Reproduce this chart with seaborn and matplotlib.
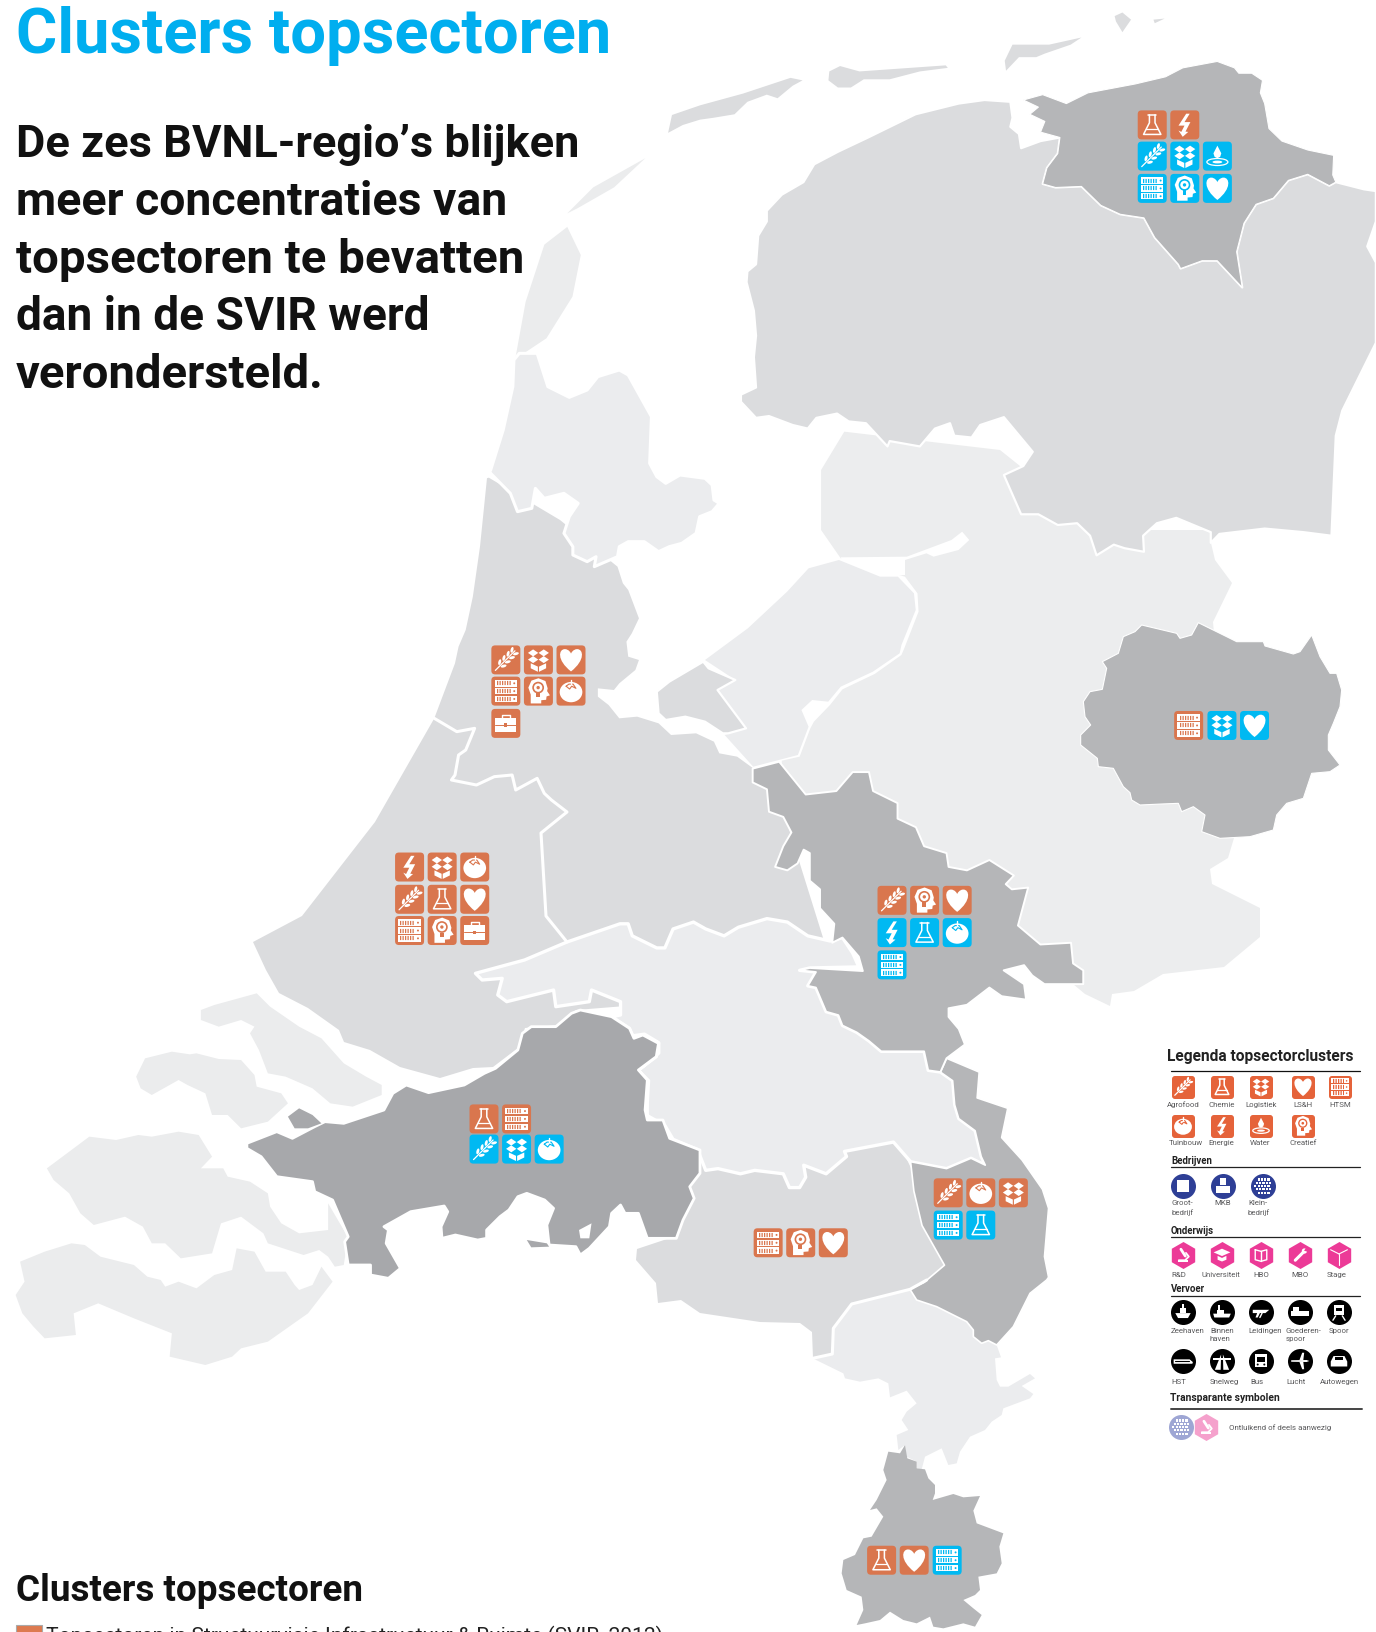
import numpy as np
import pandas as pd
import matplotlib
matplotlib.use('Agg')
import matplotlib.pyplot as plt
import seaborn as sns
from matplotlib.path import Path
from matplotlib.patches import Polygon, Circle, Ellipse, Rectangle, PathPatch

sns.set_theme(style='white')
plt.rcParams['font.family'] = ['Roboto', 'DejaVu Sans']

LIGHT = '#ECEDEE'
MID = '#DBDCDE'
DARK = '#B5B6B8'
DARKEST = '#A7A8AB'
K = 1376 / 1322


# Outlines were traced on crops of the picture, so each list goes through its crop offset and scale
def crop_n(pts):
    return [(700 + x / 2.32, y / 2.8) for x, y in pts]


def crop_sw(pts):
    return [(x / 2.24, 960 + y / 3) for x, y in pts]


def crop_c(pts):
    return [(430 + x / 2.8, 320 + y / 3) for x, y in pts]


def crop_se(pts):
    return [(620 + x / 2.45, 760 + y / 2.9) for x, y in pts]


def crop_tw(pts):
    return [(1070 + x / 3, 610 + y / 3) for x, y in pts]


def crop_li(pts):
    return [(800 + x / 3, 1280 + y / 3) for x, y in pts]


def view(pts):
    return [(x * K, y * K) for x, y in pts]


texel = view([(495,345),(505,290),(523,235),(545,218),(558,245),(550,285),(525,325)])
vlieland = view([(545,205),(570,180),(620,152),(590,180),(555,200)])
terschelling = crop_n([(-65,322),(0,295),(100,262),(210,218),(238,225),(215,240),(180,275),(155,265),(110,285),(80,320),(30,330),(0,335),(-40,350),(-74,372)])
ameland = crop_n([(300,200),(325,185),(370,200),(570,183),(575,190),(510,200),(440,222),(380,222),(350,245),(320,245),(298,225)])
schier = crop_n([(707,170),(725,125),(810,125),(885,105),(860,125),(800,150),(780,160),(740,160),(710,198)])
rottum = crop_n([(962,45),(980,35),(1000,55),(980,90),(965,60)])
rottum2 = crop_n([(1052,55),(1078,52),(1055,65)])
zeeuws_vl = crop_sw([(45,905),(100,875),(160,850),(190,855),(225,890),(300,915),(330,950),(360,960),(370,980),(400,965),(440,985),(480,945),(520,930),(530,865),(570,875),(595,935),(640,935),(660,975),(670,990),(700,975),(720,920),(745,965),(690,1060),(600,1145),(540,1165),(520,1190),(460,1215),(380,1190),(385,1120),(300,1075),(220,1030),(165,1060),(170,1125),(100,1135),(75,1100),(50,1060),(35,1005),(55,965)])
beveland = crop_sw([(105,625),(200,530),(260,540),(310,525),(340,530),(400,515),(445,525),(475,590),(450,625),(500,625),(510,650),(560,665),(600,700),(605,740),(630,790),(670,820),(735,810),(735,730),(770,810),(780,830),(770,915),(750,920),(735,890),(715,870),(680,885),(600,850),(590,820),(540,770),(495,790),(475,880),(405,895),(370,850),(340,850),(320,800),(280,770),(210,795),(180,760),(155,700),(120,660)])
schouwen = crop_sw([(305,350),(325,295),(385,275),(425,283),(440,280),(490,297),(540,300),(570,345),(575,380),(630,400),(645,430),(600,485),(540,505),(510,465),(475,465),(460,400),(420,375),(400,360),(340,405),(315,385)])
goeree = crop_sw([(450,150),(480,135),(575,100),(605,140),(670,200),(720,235),(770,310),(820,350),(855,375),(855,405),(790,440),(740,430),(700,385),(640,350),(600,340),(580,270),(560,220),(570,200),(540,180),(490,200),(450,180)])

noord_oost = crop_n([(135,660),(155,620),(155,590),(190,545),(240,510),(265,460),(320,425),(390,385),(500,320),(600,290),(660,280),(720,285),(725,330),(720,355),(740,375),(745,415),(790,395),(835,385),(830,430),(805,470),(795,515),(825,525),(885,522),(930,575),(975,600),(1030,610),(1055,665),(1110,740),(1115,752),(1165,730),(1200,730),(1258,805),(1245,705),(1262,625),(1290,572),(1330,555),(1365,505),(1410,488),(1460,520),(1475,510),(1540,530),(1568,535),(1568,620),(1548,690),(1568,735),(1568,960),(1490,1150),(1475,1220),(1465,1500),(1400,1490),(1310,1480),(1205,1495),(1185,1520),(1185,1490),(1105,1450),(1060,1465),(1028,1500),(1030,1545),(985,1535),(960,1525),(920,1555),(905,1500),(875,1465),(830,1470),(785,1440),(745,1440),(705,1330),(750,1305),(772,1265),(705,1168),(650,1190),(630,1225),(590,1220),(580,1185),(545,1200),(510,1250),(440,1235),(435,1250),(385,1185),(345,1180),(318,1158),(270,1170),(250,1200),(215,1190),(160,1165),(130,1170),(95,1125),(95,1105),(130,1085),(125,1000),(130,940),(125,870),(108,790),(110,760),(130,740)])
groningen = crop_n([(795,265),(850,290),(900,260),(1010,235),(1080,215),(1120,190),(1200,172),(1240,190),(1250,205),(1280,205),(1305,225),(1300,260),(1310,290),(1320,360),(1350,395),(1410,420),(1470,435),(1468,490),(1475,510),(1460,520),(1410,488),(1365,505),(1330,555),(1290,572),(1262,625),(1245,705),(1258,805),(1200,730),(1165,730),(1115,752),(1110,740),(1055,665),(1030,610),(975,600),(930,575),(885,522),(825,525),(795,515),(805,470),(830,430),(835,385),(790,370),(800,340),(765,320),(785,300),(750,280)])
oost = crop_c([(1095,450),(1160,335)]) + [(1000,450),(1100,530),(1211,530),(1211,543),(1215,560),(1232,583),(1213,622),(1220,700),(1204,832),(1234,838),(1228,858),(1210,869),(1212,884),(1260,908),(1260,937),(1224,967),(1163,974),(1134,991),(1112,994),(1110,1006),(1085,994),(1073,984),(1050,960),(850,900),(790,800),(753,769)] + crop_c([(985,1360),(985,1322),(1035,1310),(1065,1225),(1075,1205),(1120,1155),(1155,1108),(1245,1062),(1320,1005),(1328,985),(1368,875),(1365,820),(1330,770),(1150,715),(1095,630)])
ketelmeer = crop_c([(1150,712),(1160,740),(1265,770),(1330,765),(1330,720),(1390,700),(1410,710),(1480,690),(1510,660),(1490,635),(1460,660),(1335,710)])
kop = crop_c([(160,470),(170,450),(205,330),(232,200),(235,120),(250,100),(300,100),(315,150),(330,200),(390,232),(440,210),(470,170),(530,150),(555,165),(620,290),(615,430),(635,470),(660,490),(700,465),(770,475),(790,495),(795,540),(810,550),(790,575),(755,590),(745,640),(705,670),(670,680),(640,695),(600,665),(555,665),(530,680),(525,710),(460,740),(465,710),(440,725),(400,705),(400,680),(375,640),(390,590),(415,550),(375,520),(320,535),(295,505),(285,565),(245,575),(225,520),(170,460)])
randstad = crop_c([(160,470),(140,680),(120,830),(100,930),(80,980),(70,1030),(12,1195)]) + [(375,822),(302,916),(253,942),(266,970),(279,993),(308,1008),(339,1030),(344,1042),(370,1050),(400,1067),(440,1078),(473,1068),(493,1067),(518,1048),(525,1028),(558,1025),(576,1010),(700,1000),(830,960),(780,800)] + crop_c([(905,1345),(860,1310),(810,1300),(795,1265),(745,1240),(675,1245),(640,1210),(580,1190),(530,1195),(500,1155),(470,1130),(470,1105),(515,1110),(530,1090),(575,1050),(585,1020),(555,1010),(550,965),(565,940),(585,895),(555,810),(540,790),(525,740)]) + [(560,520)]
province_line = crop_c([(12,1195),(75,1235),(125,1225),(100,1290),(80,1305),(70,1365),(60,1380),(130,1395),(180,1370),(230,1365),(240,1410),(300,1375),(320,1420),(340,1440)]) + [(567,812),(541,833),(546,916),(567,942)]
flevoland = crop_c([(770,1020),(890,925),(945,870),(1000,815),(1060,745),(1145,720),(1260,770),(1310,770),(1355,820),(1360,870),(1320,975),(1315,1000),(1240,1055),(1150,1100),(1115,1145),(1070,1140),(1040,1170),(1060,1220),(1030,1305),(905,1340),(825,1245),(885,1225),(805,1110),(855,1080)])
almere = crop_c([(635,1115),(670,1085),(765,1025),(780,1045),(855,1080),(805,1110),(885,1225),(835,1240),(820,1240),(770,1205),(715,1190),(660,1200),(640,1180)])
brainport = [(637,1249),(670,1238),(690,1170),(730,1130),(895,1135),(958,1265),(910,1289),(852,1304),(833,1328),(832,1354),(813,1358),(812,1332),(800,1323),(760,1322),(700,1313),(681,1300),(658,1303),(656,1283),(636,1260)]
rivieren = crop_sw([(1065,40),(1175,0)]) + [(567,942)] + crop_se([(0,475),(20,475),(30,510),(90,545),(110,545),(130,490),(180,470),(210,490),(255,510),(290,485),(360,460),(410,470),(460,510),(515,525),(545,515),(570,560),(585,600),(465,603),(440,610),(480,615),(460,655),(480,660),(505,730),(535,740),(545,770),(580,790),(610,815),(640,845),(745,845),(755,900),(785,905),(815,930),(820,1000),(830,1040),(870,1075),(885,1150),(895,1175),(860,1155),(800,1185),(712,1165),(670,1108),(550,1135),(555,1150),(505,1200),(450,1175),(455,1210),(440,1240),(415,1240),(400,1200),(330,1190),(295,1200),(240,1185),(210,1190),(190,1130),(130,1100),(110,1060),(65,1030),(70,930),(45,900),(95,850),(95,820),(60,795),(30,800),(0,765)]) + crop_sw([(1370,600),(1450,480),(1445,360),(1430,330),(1470,290),(1475,250),(1440,225),(1420,235),(1410,205),(1370,170),(1390,165),(1390,125),(1325,90),(1320,125),(1245,140),(1240,90),(1135,125),(1115,105),(1125,55),(1080,60)])
brabant = crop_sw([(553,550),(620,515),(655,535),(705,500),(728,485),(770,490),(860,450),(880,400),(910,375),(960,398),(1040,375),(1085,340),(1110,325),(1160,270),(1170,220),(1190,200),(1245,200),(1280,160),(1300,150),(1370,170),(1410,205),(1420,235),(1440,225),(1475,250),(1470,290),(1430,330),(1450,360),(1445,450),(1450,480),(1485,480),(1500,535),(1568,570),(1568,640),(1545,680),(1555,715),(1530,780),(1515,835),(1450,835),(1430,760),(1400,760),(1390,735),(1370,760),(1365,800),(1320,865),(1300,885),(1290,860),(1230,855),(1225,795),(1240,745),(1220,720),(1180,700),(1160,710),(1140,750),(1120,770),(1090,810),(1090,835),(1070,840),(1020,825),(990,835),(988,800),(1003,755),(995,738),(920,755),(860,800),(870,810),(865,850),(897,925),(870,955),(830,945),(830,915),(780,915),(772,845),(780,830),(745,720),(705,695),(700,665),(620,650),(585,590),(553,565)])
tholen = crop_sw([(645,470),(670,445),(700,465),(720,490),(690,505),(660,505)])
brabant_gap = crop_sw([(1297,810),(1325,790),(1320,835),(1300,835)])
brabant_bit = crop_sw([(1180,840),(1225,850),(1230,860),(1190,862)])
venlo = crop_se([(785,905),(800,865),(880,905),(875,980),(950,1010),(935,1095),(985,1160),(1035,1245),(1050,1300),(1040,1440),(1050,1500)]) + crop_li([(740,0),(690,40),(640,140),(590,195),(565,182),(545,190),(520,170),(520,150),(500,125),(410,80),(350,60),(330,28)]) + crop_se([(745,1515),(795,1465),(740,1350),(720,1250),(712,1165),(800,1185),(860,1155),(895,1175),(885,1150),(870,1075),(830,1040),(820,1000),(815,930)])
gelderland = crop_se([(325,25),(390,5),(455,100),(530,90),(570,35),(610,35),(620,90),(680,125),(680,170),(725,195),(745,250),(800,270),(805,310),(850,320),(905,290),(965,335),(945,360),(960,375),(1000,370),(975,480),(1030,535),(1105,530),(1110,590),(1135,610),(1135,650),(1040,650),(1010,625),(990,595),(940,610),(990,650),(995,695),(935,685),(905,660),(850,710),(805,720),(805,745),(830,780),(845,825),(800,865),(785,905),(755,900),(745,845),(640,845),(610,815),(580,790),(545,770),(535,740),(505,730),(480,660),(460,655),(480,615),(440,610),(465,603),(595,612),(585,570),(545,515),(520,530),(525,475),(490,430),(490,375),(465,350),(465,270),(450,260),(435,300),(410,320),(380,310),(400,250),(420,210),(400,165),(365,150),(360,85),(325,65)])
twente = crop_tw([(215,45),(320,70),(330,85),(365,75),(385,38),(470,80),(500,95),(580,95),(585,108),(670,132),(690,125),(725,75),(750,140),(780,190),(800,190),(815,240),(810,290),(790,340),(775,375),(775,420),(810,465),(780,485),(725,490),(700,565),(650,580),(620,615),(610,660),(540,680),(450,685),(395,665),(405,615),(370,590),(335,605),(325,580),(275,582),(210,585),(185,570),(180,548),(160,530),(130,475),(85,470),(82,445),(32,405),(32,375),(62,345),(45,320),(40,275),(60,245),(97,238),(110,175),(97,155),(145,130),(160,80),(195,65)])
midden_limburg = crop_li([(38,235),(97,222),(100,145),(155,72),(330,28),(350,60),(410,80),(500,125),(520,150),(520,170),(545,190),(565,182),(590,195),(603,232),(585,235),(590,300),(600,320),(625,320),(690,282),(705,295),(665,318),(700,342),(690,355),(610,385),(605,405),(575,425),(555,450),(510,470),(480,515),(470,550),(445,555),(425,505),(375,530),(365,568),(350,565),(350,545),(320,530),(315,495),(295,510),(290,465),(325,450),(305,420),(320,395),(350,370),(320,332),(270,352),(265,310),(235,295),(180,305),(135,295),(130,280)])
maastricht = crop_li([(265,515),(300,520),(315,495),(322,535),(350,545),(350,565),(375,568),(385,595),(405,615),(405,640),(398,660),(460,642),(490,652),(540,648),(520,692),(530,730),(570,745),(610,760),(598,800),(605,850),(590,880),(535,890),(540,930),(525,945),(490,960),(520,985),(545,1005),(525,1040),(490,1030),(430,1045),(400,1040),(390,1010),(350,1030),(310,1020),(270,995),(240,1020),(195,1030),(170,1035),(190,990),(185,950),(140,930),(125,880),(130,840),(165,825),(190,775),(215,770),(250,710),(230,685),(210,690),(230,660),(260,600),(250,570)])

# Icon clusters: each row starts at (x, y), status 'k' = in SVIR, 'b' = extra
clusters = [
    (486, 634, 'k', ['agro', 'log', 'hart']),
    (486, 664, 'k', ['htsm', 'crea', 'tuin']),
    (486, 695, 'k', ['bag']),
    (393.5, 833, 'k', ['ener', 'log', 'tuin']),
    (393.5, 864, 'k', ['agro', 'chem', 'hart']),
    (393.5, 894, 'k', ['htsm', 'crea', 'bag']),
    (1107, 120, 'k', ['chem', 'ener']),
    (1107, 150, 'b', ['agro', 'log', 'wate']),
    (1107, 181, 'b', ['htsm', 'crea', 'hart']),
    (1142, 697, 'k', ['htsm']),
    (1174, 697, 'b', ['log', 'hart']),
    (857, 865, 'k', ['agro', 'crea', 'hart']),
    (857, 896, 'b', ['ener', 'chem', 'tuin']),
    (857, 927, 'b', ['htsm']),
    (465, 1075, 'k', ['chem', 'htsm']),
    (465, 1104, 'b', ['agro', 'log', 'tuin']),
    (738, 1194, 'k', ['htsm', 'crea', 'hart']),
    (911, 1146, 'k', ['agro', 'tuin', 'log']),
    (911, 1177, 'b', ['htsm', 'chem']),
    (847, 1499, 'k', ['chem', 'hart']),
    (910, 1499, 'b', ['htsm']),
]

heading_lines = ['De zes BVNL-regio’s blijken', 'meer concentraties van', 'topsectoren te bevatten', 'dan in de SVIR werd', 'verondersteld.']
heading_sizes = [32.5, 33.4, 34.1, 33.1, 34]

# Legend content
sector_row1 = [('agro', 'Agrofood', 1183), ('chem', 'Chemie', 1222), ('log', 'Logistiek', 1261), ('hart', 'LS&H', 1303), ('htsm', 'HTSM', 1340)]
sector_row2 = [('tuin', 'Tuinbouw', 1186), ('ener', 'Energie', 1221), ('wate', 'Water', 1260), ('crea', 'Creatief', 1303)]
onderwijs = [('rd', 'R&D', 1179), ('uni', 'Universiteit', 1221), ('hbo', 'HBO', 1261), ('mbo', 'MBO', 1300), ('stage', 'Stage', 1337)]
vervoer1 = [('Zeehaven', 1183), ('Binnen\nhaven', 1222), ('Leidingen', 1261), ('Goederen-\nspoor', 1300), ('Spoor', 1339)]
vervoer2 = [('HST', 1183), ('Snelweg', 1222), ('Bus', 1261), ('Lucht', 1300), ('Autowegen', 1339)]

ORANGE = '#D9764E'
BLUE = '#00B9F2'
LEG_OR = '#E5633A'
NAVY = '#2E3F96'
PINK = '#EC3A97'

fig = plt.figure(figsize=(13.76, 16.32), dpi=100)
ax = fig.add_axes([0, 0, 1, 1])
ax.set_xlim(0, 1376)
ax.set_ylim(1632, 0)
ax.axis('off')


def region(pts, color, lw=1.8):
    ax.add_patch(Polygon(np.array(pts), closed=True, fc=color, ec='white', lw=lw, zorder=1, joinstyle='round'))


for p in [texel, vlieland, zeeuws_vl, beveland, schouwen, goeree]:
    region(p, '#EBECED', lw=0)
for p in [terschelling, ameland, schier, rottum, rottum2]:
    region(p, MID, lw=0)
region(oost, LIGHT, lw=0)
region(ketelmeer, 'white', lw=0)
for p, c, w in [(noord_oost, MID, 1.6), (groningen, DARK, .8), (randstad, MID, 0), (kop, '#EBECEE', 2.2), (flevoland, '#EBECEE', 0),
                (almere, MID, 1.6), (brainport, MID, 0), (rivieren, '#EBECEE', 2.4), (brabant, DARKEST, 2), (tholen, DARKEST, 0),
                (brabant_gap, 'white', 0), (brabant_bit, DARKEST, 0), (midden_limburg, '#EBECEE', 0), (venlo, DARK, 1.2),
                (gelderland, DARK, 1.4), (twente, DARK, .8), (maastricht, DARK, 0)]:
    region(p, c, lw=w)
line_pts = np.array(province_line)
ax.plot(line_pts[:, 0], line_pts[:, 1], color='white', lw=2.2, zorder=1)
# white edge between Brainport and Limburg
limburg_edge = np.array(crop_li([(38, 235), (97, 222), (100, 145), (155, 72), (330, 28), (380, 0)]))
ax.plot(limburg_edge[:, 0], limburg_edge[:, 1], color='white', lw=2.2, zorder=2)

# rounded square marker
a, b = 1.0, 0.74
rounded = Path([(-b, -a), (b, -a), (a, -a), (a, -b), (a, b), (a, a), (b, a), (-b, a), (-a, a), (-a, b), (-a, -b), (-a, -a), (-b, -a), (-b, -a)],
               [Path.MOVETO, Path.LINETO, Path.CURVE3, Path.CURVE3, Path.LINETO, Path.CURVE3, Path.CURVE3, Path.LINETO, Path.CURVE3, Path.CURVE3, Path.LINETO, Path.CURVE3, Path.CURVE3, Path.CLOSEPOLY])

HEART = Path([(0, .75), (-.95, 0), (-.8, -.7), (-.4, -.7), (-.15, -.7), (0, -.45), (0, -.4), (0, -.45), (.15, -.7), (.4, -.7), (.8, -.7), (.95, 0), (0, .75)],
             [Path.MOVETO] + [Path.CURVE4] * 12)


def glyph(kind, x, y, r, bg, fg='white', alpha=1.0):
    # draws one pictogram, local units run from -1 to 1 around the centre
    kw = dict(zorder=6, alpha=alpha)

    def poly(pts, c=fg):
        ax.add_patch(Polygon(np.array(pts) * r + (x, y), closed=True, fc=c, ec='none', **kw))

    def line(pts, w=1.2, c=fg):
        arr = np.array(pts) * r + (x, y)
        ax.plot(arr[:, 0], arr[:, 1], color=c, lw=w, solid_capstyle='round', **kw)

    def rect(x0, y0, x1, y1, c=fg):
        ax.add_patch(Rectangle((x + x0 * r, y + y0 * r), (x1 - x0) * r, (y1 - y0) * r, fc=c, ec='none', **kw))

    def circ(cx, cy, rad, c=fg):
        ax.add_patch(Circle((x + cx * r, y + cy * r), rad * r, fc=c, ec='none', **kw))

    if kind == 'agro':
        line([(-.75, .75), (.65, -.65)], .9)
        for t in [-.3, 0, .3, .58]:
            ax.add_patch(Ellipse((x + (t - .14) * r, y + (-t - .14) * r), .42 * r, .2 * r, angle=-75, fc=fg, ec='none', **kw))
            ax.add_patch(Ellipse((x + (t + .14) * r, y + (-t + .14) * r), .42 * r, .2 * r, angle=-15, fc=fg, ec='none', **kw))
    elif kind == 'chem':
        line([(-.2, -.72), (-.2, -.15), (-.62, .68), (.62, .68), (.2, -.15), (.2, -.72)], 1.1)
        line([(-.3, -.72), (.3, -.72)], 1.1)
        line([(-.42, .28), (.42, .28)], .9)
    elif kind == 'log':
        for cx, cy in [(-.38, -.5), (.38, -.5), (-.38, -.02), (.38, -.02)]:
            poly([(cx - .37, cy), (cx, cy - .25), (cx + .37, cy), (cx, cy + .25)])
        poly([(-.55, .24), (-.04, .48), (-.04, .85), (-.55, .6)])
        poly([(.55, .24), (.04, .48), (.04, .85), (.55, .6)])
    elif kind == 'hart':
        ax.add_patch(PathPatch(HEART.transformed(matplotlib.transforms.Affine2D().scale(r * 1.1).translate(x, y)), fc=fg, ec='none', **kw))
    elif kind == 'htsm':
        for cy in [-.56, 0, .56]:
            rect(-.8, cy - .23, .8, cy + .23)
            ax.plot([x - .65 * r, x + .4 * r], [y + cy * r] * 2, color=bg, lw=3, ls=(0, (.3, .3)), **kw)
            circ(.6, cy, .07, bg)
    elif kind == 'tuin':
        ax.add_patch(Ellipse((x, y + .07 * r), 1.62 * r, 1.45 * r, fc=fg, ec='none', **kw))
        line([(-.35, -.35), (-.1, -.15), (.05, -.35), (.35, -.2), (.15, -.5), (-.15, -.5), (-.35, -.35)], .8, bg)
        line([(0, -.8), (0, -.5)], 1.0)
    elif kind == 'ener':
        poly([(.1, -.8), (-.45, .05), (-.02, .05), (-.25, .5), (-.45, .4), (-.15, .85), (.25, .5), (.05, .48), (.4, -.2), (-.02, -.2), (.35, -.8)])
    elif kind == 'wate':
        poly([(0, -.75), (.28, -.2), (.2, .05), (0, .15), (-.2, .05), (-.28, -.2)])
        ax.add_patch(Ellipse((x, y + .42 * r), 1.5 * r, .5 * r, fc='none', ec=fg, lw=.9, **kw))
        ax.add_patch(Ellipse((x, y + .42 * r), .7 * r, .2 * r, fc=fg, ec='none', **kw))
    elif kind == 'crea':
        poly([(-.55, .88), (-.55, .25), (-.72, -.25), (-.5, -.75), (0, -.92), (.5, -.72), (.66, -.2), (.62, 0), (.82, .3), (.58, .38), (.55, .62), (.2, .65), (.2, .88)])
        circ(-.02, -.25, .42, bg)
        circ(-.02, -.25, .3)
        circ(-.02, -.25, .12, bg)
        rect(-.16, .15, .12, .45, bg)
    elif kind == 'bag':
        rect(-.75, -.38, .75, .65)
        line([(-.28, -.38), (-.28, -.6), (.28, -.6), (.28, -.38)], 1.0)
        line([(-.75, .12), (.75, .12)], .7, bg)
        rect(-.1, 0, .1, .25, bg)
    elif kind == 'rd':
        line([(-.2, -.55), (.22, .1)], 2.0)
        line([(.28, -.2), (.55, .15), (.2, .5), (-.4, .5)], 1.3)
        rect(-.5, .5, .5, .68)
    elif kind == 'uni':
        poly([(-.8, -.25), (0, -.6), (.8, -.25), (0, .1)])
        poly([(-.42, .08), (0, .28), (.42, .08), (.42, .45), (0, .62), (-.42, .45)])
    elif kind == 'hbo':
        line([(-.55, -.5), (-.55, .45), (0, .6), (.55, .45), (.55, -.5), (0, -.35), (-.55, -.5)], 1.0)
        line([(0, -.35), (0, .6)], 1.0)
    elif kind == 'mbo':
        line([(-.45, .5), (.35, -.3)], 2.2)
        circ(.42, -.38, .25)
        poly([(.38, -.42), (.62, -.72), (.72, -.3)], bg)
    elif kind == 'stage':
        line([(0, -.1), (0, .95)], .8)
        line([(0, -.1), (-.8, -.5)], .8)
        line([(0, -.1), (.8, -.5)], .8)
    elif kind == 'groot':
        rect(-.56, -.56, .56, .56)
    elif kind == 'mkb':
        rect(-.28, -.72, .28, -.1)
        rect(-.62, .04, -.04, .6)
        rect(.04, .04, .62, .6)
    elif kind == 'klein':
        for j, cy in enumerate(np.arange(-.6, .7, .3)):
            for cx in np.arange(-.7 + .15 * (j % 2), .75, .3):
                if cx * cx + cy * cy < .62:
                    rect(cx - .1, cy - .1, cx + .1, cy + .1)
    elif kind == 'ship':
        poly([(-.7, .1), (.7, .1), (.45, .55), (-.45, .55)])
        rect(-.3, -.4, .3, .1)
        rect(-.08, -.7, .08, -.4)
    elif kind == 'binnen':
        poly([(-.8, .15), (.8, .15), (.65, .5), (-.7, .5)])
        rect(-.5, -.2, .2, .15)
        rect(-.4, -.6, -.2, -.2)
    elif kind == 'pipe':
        poly([(-.75, -.2), (.75, -.2), (.4, .1), (-.1, .1), (-.3, .5), (-.5, .5), (-.35, .1), (-.75, .1)])
        line([(.1, .1), (-.1, .5)], 1.0)
    elif kind == 'freight':
        rect(-.8, -.1, .8, .35)
        rect(-.6, -.45, -.1, -.1)
    elif kind == 'spoor':
        rect(-.42, -.6, .42, .3)
        rect(-.28, -.4, .28, -.05, bg)
        line([(-.3, .35), (-.55, .75)], 1.0)
        line([(.3, .35), (.55, .75)], 1.0)
    elif kind == 'hst':
        poly([(-.85, -.15), (.6, -.15), (.9, .1), (.85, .25), (-.85, .25)])
        line([(-.7, 0), (.5, 0)], .8, bg)
    elif kind == 'weg':
        poly([(-.08, -.6), (-.65, .8), (-.12, .8)])
        poly([(.08, -.6), (.65, .8), (.12, .8)])
        rect(-.85, -.25, .85, -.12)
    elif kind == 'bus':
        rect(-.55, -.62, .55, .55)
        rect(-.38, -.4, .38, .05, bg)
        circ(-.3, .32, .09, bg)
        circ(.3, .32, .09, bg)
    elif kind == 'lucht':
        poly([(-.8, -.07), (.6, -.09), (.85, 0), (.6, .09), (-.8, .07)])
        poly([(-.05, -.08), (.2, -.75), (.38, -.75), (.3, -.08)])
        poly([(-.05, .08), (.2, .75), (.38, .75), (.3, .08)])
    elif kind == 'auto':
        poly([(-.75, .05), (-.5, -.45), (.5, -.45), (.75, .05), (.75, .5), (-.75, .5)])
        rect(-.38, -.32, .38, -.05, bg)


# icons on the map
rows = []
for x0, y0, status, names in clusters:
    for i, name in enumerate(names):
        rows.append({'x': (x0 + i * 31.3) * K, 'y': y0 * K, 'name': name, 'status': status})
icons = pd.DataFrame(rows)
sns.scatterplot(data=icons, x='x', y='y', hue='status', palette={'k': ORANGE, 'b': BLUE}, marker=rounded,
                s=(29 * .72) ** 2, linewidth=0, legend=False, ax=ax, zorder=5)
for row in icons.itertuples():
    glyph(row.name, row.x, row.y, 14, ORANGE if row.status == 'k' else BLUE)

# legend
leg_x = [1183, 1222, 1261, 1303, 1340, 1183, 1222, 1261, 1303]
legend_rows = sector_row1 + sector_row2
leg = pd.DataFrame({'x': leg_x,
                    'y': [1087] * len(sector_row1) + [1126] * len(sector_row2),
                    'name': [v[0] for v in legend_rows]})
sns.scatterplot(data=leg, x='x', y='y', color=LEG_OR, marker=rounded, s=(23 * .72) ** 2, linewidth=0, legend=False, ax=ax, zorder=5)
for row in leg.itertuples():
    glyph(row.name, row.x, row.y, 11, LEG_OR)


def small(x, y, s, ha='center'):
    ax.text(x, y, s, fontsize=5.7, color='#5a5a5c', ha=ha, va='center', linespacing=1.5, zorder=7)


def rule(y, title, x0=1171, x1=1360, lw=.9, size=6.9):
    ax.plot([x0, x1], [y, y], color='#222222', lw=lw, zorder=7)
    ax.text(x0, y - 6.5, title, fontsize=size, fontweight='bold', color='#222222', va='center', zorder=7)


ax.text(1167, 1057, 'Legenda topsectorclusters', fontsize=11.2, fontweight='bold', color='#222222', va='center', zorder=7)
ax.plot([1171, 1360], [1071, 1071], color='#111111', lw=.9, zorder=7)
for name, lab, x in sector_row1:
    small(x, 1105, lab)
for name, lab, x in sector_row2:
    small(x, 1143, lab)

rule(1167, 'Bedrijven')
bedrijf = pd.DataFrame({'x': [1183, 1223, 1263], 'y': [1186] * 3, 'name': ['groot', 'mkb', 'klein']})
sns.scatterplot(data=bedrijf, x='x', y='y', color=NAVY, marker='o', s=(25 * .72) ** 2, linewidth=0, legend=False, ax=ax, zorder=5)
for row in bedrijf.itertuples():
    glyph(row.name, row.x, row.y, 11, NAVY)
small(1171, 1208, 'Groot-\nbedrijf', ha='left')
small(1223, 1203, 'MKB')
small(1248, 1208, 'Klein-\nbedrijf', ha='left')

rule(1237, 'Onderwijs')
hexa = pd.DataFrame({'x': [1183, 1222, 1261, 1300, 1339], 'y': [1255] * 5, 'name': [v[0] for v in onderwijs]})
sns.scatterplot(data=hexa, x='x', y='y', color=PINK, marker='h', s=(27 * .72) ** 2, linewidth=0, legend=False, ax=ax, zorder=5)
for i, row in enumerate(hexa.itertuples()):
    glyph(row.name, row.x, row.y, 10.5, PINK)
    small(onderwijs[i][2], 1275, onderwijs[i][1])

rule(1296, 'Vervoer')
vervoer_marks = ['ship', 'binnen', 'pipe', 'freight', 'spoor', 'hst', 'weg', 'bus', 'lucht', 'auto']
verv = pd.DataFrame({'x': [v[1] for v in vervoer1 + vervoer2], 'y': [1312] * 5 + [1361] * 5, 'name': vervoer_marks})
sns.scatterplot(data=verv, x='x', y='y', color='black', marker='o', s=(25 * .72) ** 2, linewidth=0, legend=False, ax=ax, zorder=5)
for row in verv.itertuples():
    glyph(row.name, row.x, row.y, 11, 'black')
small(1171, 1331, 'Zeehaven', ha='left')
small(1210, 1335, 'Binnen\nhaven', ha='left')
small(1265, 1331, 'Leidingen')
small(1286, 1335, 'Goederen-\nspoor', ha='left')
small(1339, 1331, 'Spoor')
small(1171, 1382, 'HST', ha='left')
small(1210, 1382, 'Snelweg', ha='left')
small(1250, 1382, 'Bus', ha='left')
small(1286, 1382, 'Lucht', ha='left')
small(1339, 1382, 'Autowegen')

ax.plot([1171, 1362], [1409, 1409], color='#444444', lw=1.4, zorder=7)
ax.text(1170, 1398, 'Transparante symbolen', fontsize=7.4, fontweight='bold', color='#222222', va='center', zorder=7)
ax.scatter([1181], [1427], s=(25 * .72) ** 2, color='#9EA6D4', linewidth=0, zorder=5)
glyph('klein', 1181, 1427, 11, '#9EA6D4')
ax.scatter([1206], [1427], s=(27 * .72) ** 2, color='#F5A1CC', marker='h', linewidth=0, zorder=5)
glyph('rd', 1206, 1427, 10.5, '#F5A1CC')
small(1229, 1428, 'Ontluikend of deels aanwezig', ha='left')

# titles
ax.text(16, 36.5, 'Clusters topsectoren', fontsize=45.5, fontweight='bold', color='#00AEEF', va='center', zorder=8)
for i, line_text in enumerate(heading_lines):
    ax.text(16, 145 + i * 57.4, line_text, fontsize=heading_sizes[i], fontweight='bold', color='#111111', va='center', zorder=8)
ax.text(16, 1591, 'Clusters topsectoren', fontsize=26.6, fontweight='bold', color='#111111', va='center', zorder=8)
ax.add_patch(Rectangle((16, 1625), 26, 12, fc='#DD7A50', ec='#AAAAAA', lw=.8, zorder=8))
ax.text(46, 1636, 'Topsectoren in Structuurvisie Infrastructuur & Ruimte (SVIR, 2012)', fontsize=15.1, color='#222222',
        va='center', zorder=8, clip_on=True)

fig.savefig('out.png', dpi=100)
